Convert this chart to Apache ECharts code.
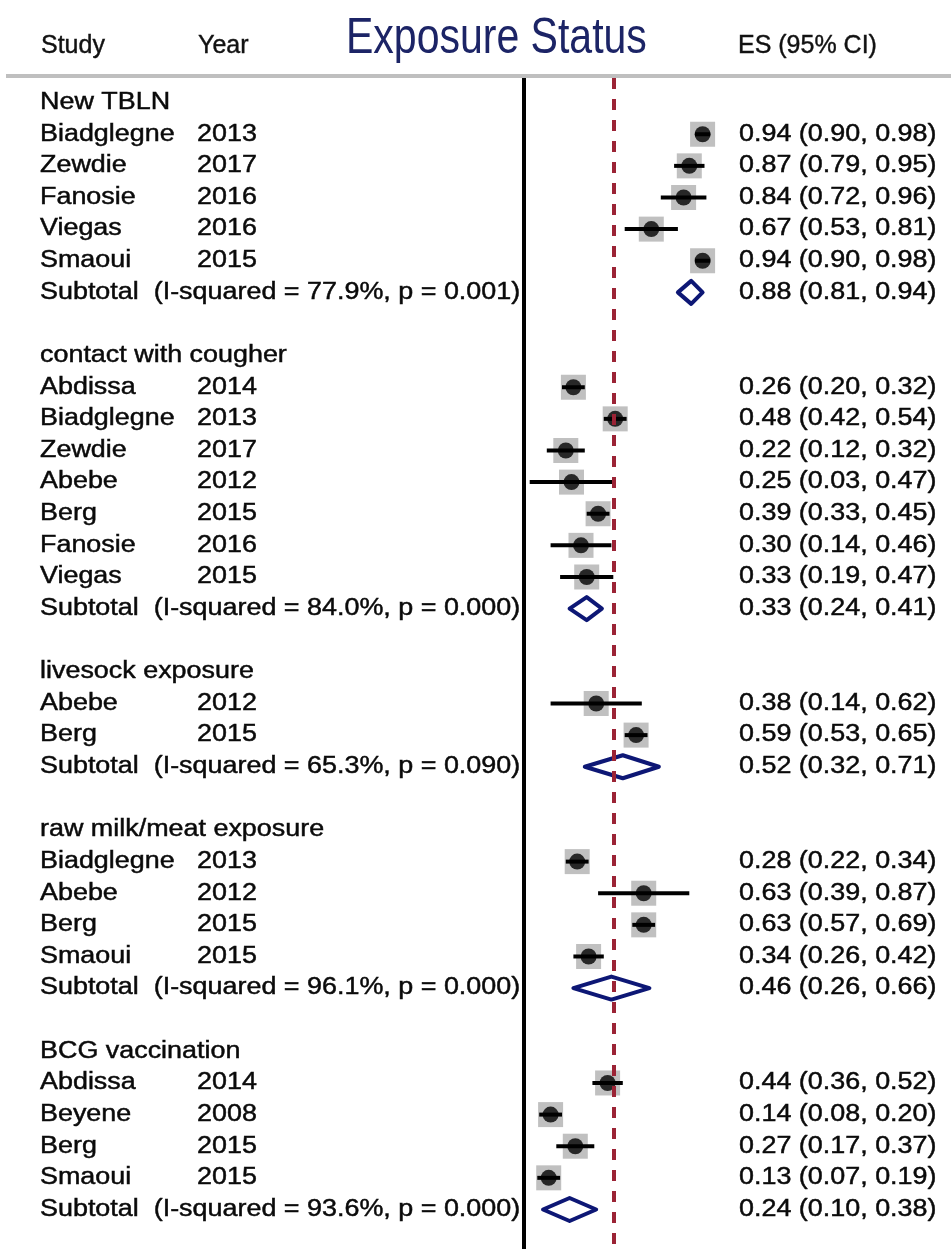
<!DOCTYPE html>
<html><head><meta charset="utf-8">
<script src="https://cdn.jsdelivr.net/npm/echarts@6/dist/echarts.min.js"></script>
<style>html,body{margin:0;padding:0;background:#fff}#c{width:951px;height:1249px}</style>
</head><body><div id="c"></div>
<script>
// ---- data ----
const groupNames = ['New TBLN','contact with cougher','livesock exposure','raw milk/meat exposure','BCG vaccination'];
const studyGroup = [0,0,0,0,0, 1,1,1,1,1,1,1, 2,2, 3,3,3,3, 4,4,4,4];
const studyNames = ['Biadglegne','Zewdie','Fanosie','Viegas','Smaoui',
  'Abdissa','Biadglegne','Zewdie','Abebe','Berg','Fanosie','Viegas',
  'Abebe','Berg',
  'Biadglegne','Abebe','Berg','Smaoui',
  'Abdissa','Beyene','Berg','Smaoui'];
const studyYears = [2013,2017,2016,2016,2015, 2014,2013,2017,2012,2015,2016,2015, 2012,2015, 2013,2012,2015,2015, 2014,2008,2015,2015];
const esValues = [0.94,0.87,0.84,0.67,0.94, 0.26,0.48,0.22,0.25,0.39,0.30,0.33, 0.38,0.59, 0.28,0.63,0.63,0.34, 0.44,0.14,0.27,0.13];
const ciLower  = [0.90,0.79,0.72,0.53,0.90, 0.20,0.42,0.12,0.03,0.33,0.14,0.19, 0.14,0.53, 0.22,0.39,0.57,0.26, 0.36,0.08,0.17,0.07];
const ciUpper  = [0.98,0.95,0.96,0.81,0.98, 0.32,0.54,0.32,0.47,0.45,0.46,0.47, 0.62,0.65, 0.34,0.87,0.69,0.42, 0.52,0.20,0.37,0.19];
const subtotalES    = [0.88,0.33,0.52,0.46,0.24];
const subtotalLower = [0.81,0.24,0.32,0.26,0.10];
const subtotalUpper = [0.94,0.41,0.71,0.66,0.38];
const iSquared = ['77.9%','84.0%','65.3%','96.1%','93.6%'];
const pHet = ['0.001','0.000','0.090','0.000','0.000'];
const overallES = 0.47;
const headerLabels = ['Study','Year','Exposure Status','ES (95% CI)'];

// ---- build rows ----
const rows = [];
groupNames.forEach((g, gi) => {
  rows.push({kind:'head', g: gi});
  studyGroup.forEach((sg, i) => { if (sg === gi) rows.push({kind:'study', i}); });
  rows.push({kind:'sub', g: gi});
  rows.push({kind:'blank'});
});
const fmt = (e,l,h) => e.toFixed(2) + ' (' + l.toFixed(2) + ', ' + h.toFixed(2) + ')';
const studyCol = rows.map(r => r.kind==='head' ? groupNames[r.g] : r.kind==='study' ? studyNames[r.i] :
  r.kind==='sub' ? 'Subtotal  (I-squared = ' + iSquared[r.g] + ', p = ' + pHet[r.g] + ')' : '');
const yearCol = rows.map(r => r.kind==='study' ? String(studyYears[r.i]) : '');
const esCol = rows.map(r => r.kind==='study' ? fmt(esValues[r.i], ciLower[r.i], ciUpper[r.i]) :
  r.kind==='sub' ? fmt(subtotalES[r.g], subtotalLower[r.g], subtotalUpper[r.g]) : '');

const studyPts = [], ciData = [], diaData = [], textRows = [];
rows.forEach((r, k) => {
  textRows.push([0, k]);
  if (r.kind==='study') { studyPts.push([esValues[r.i], k]); ciData.push([ciLower[r.i], ciUpper[r.i], k]); }
  if (r.kind==='sub') diaData.push([subtotalLower[r.g], subtotalES[r.g], subtotalUpper[r.g], k]);
});

const YMIN = -1, YMAX = 36.25;
const BODY_FONT = '23px "Liberation Sans", Arial, sans-serif';
const SX = 1.17;          // horizontal stretch of body text
const COL_STUDY = 40, COL_YEAR = 197, COL_ES = 739, CLIP_X = 526;

const chart = echarts.init(document.getElementById('c'));
chart.setOption({
  animation:false,
  backgroundColor:'#fff',
  grid:{left:524, width:190, top:71, bottom:0},
  xAxis:{type:'value', min:0, max:1, show:false},
  yAxis:{type:'value', inverse:true, min:YMIN, max:YMAX, show:false},
  graphic:[
    {type:'rect', shape:{x:6, y:74, width:945, height:4}, style:{fill:'#bfbfbf'}, z:10},
    {type:'text', x:41, y:46, style:{text:headerLabels[0], fill:'#111', font:'25px "Liberation Sans", Arial', verticalAlign:'middle', stroke:'#111', lineWidth:0.4}},
    {type:'text', x:198, y:46, style:{text:headerLabels[1], fill:'#111', font:'25px "Liberation Sans", Arial', verticalAlign:'middle', stroke:'#111', lineWidth:0.4}},
    {type:'text', x:346, y:39, scaleX:0.82, style:{text:headerLabels[2], fill:'#1c2466', font:'50px "Liberation Sans", Arial', verticalAlign:'middle'}},
    {type:'text', x:738, y:46, style:{text:headerLabels[3], fill:'#111', font:'25px "Liberation Sans", Arial', verticalAlign:'middle', stroke:'#111', lineWidth:0.4}}
  ],
  series:[
    // text table columns, one row per plotted row
    {type:'custom', data:textRows, z:1, silent:true, encode:{x:0, y:1},
      renderItem:(p, api) => {
        const k = api.value(1);
        const y = api.coord([0, k])[1];
        const t = (x, s, w) => ({type:'text', x, y, scaleX:SX,
          style:Object.assign({text:s, font:BODY_FONT, fill:'#0a0a0a', stroke:'#0a0a0a', lineWidth:0.45,
            align:'left', verticalAlign:'middle'},
            w ? {width:w, overflow:'truncate', ellipsis:''} : {})});
        return {type:'group', children:[
          t(COL_STUDY, studyCol[k], (CLIP_X - COL_STUDY) / SX),
          t(COL_YEAR, yearCol[k]),
          t(COL_ES, esCol[k])
        ]};
      }},
    {type:'line', data:[], z:1, silent:true,
      markLine:{silent:true, symbol:'none', label:{show:false}, animation:false,
        data:[
          [{coord:[overallES, -0.78], lineStyle:{color:'#9b2335', width:4, type:[11,10]}}, {coord:[overallES, YMAX]}],
          [{coord:[0, -0.78], lineStyle:{color:'#000', width:4, type:'solid'}}, {coord:[0, YMAX]}]
        ]}},
    {type:'scatter', data:studyPts, symbol:'rect', symbolSize:25, z:2, silent:true,
      itemStyle:{color:'#b0b0b0'}},
    {type:'custom', data:ciData, z:3, silent:true, encode:{x:[0,1], y:2},
      renderItem:(p, api) => {
        const a = api.coord([api.value(0), api.value(2)]);
        const b = api.coord([api.value(1), api.value(2)]);
        return {type:'line', shape:{x1:a[0], y1:a[1], x2:b[0], y2:b[1]}, style:{stroke:'#000', lineWidth:4}};
      }},
    {type:'scatter', data:studyPts, symbol:'circle', symbolSize:16, z:4, silent:true,
      itemStyle:{color:'#000'}},
    {type:'custom', data:diaData, z:4, silent:true, encode:{x:[0,1,2], y:3},
      renderItem:(p, api) => {
        const l = api.coord([api.value(0), api.value(3)]);
        const m = api.coord([api.value(1), api.value(3)]);
        const h = api.coord([api.value(2), api.value(3)]);
        const hh = 11.5;
        return {type:'polygon', shape:{points:[[l[0],l[1]],[m[0],m[1]-hh],[h[0],h[1]],[m[0],m[1]+hh]]},
          style:{fill:'#fff', stroke:'#0d1775', lineWidth:4, lineJoin:'round'}};
      }}
  ]
});
</script>
</body></html>
